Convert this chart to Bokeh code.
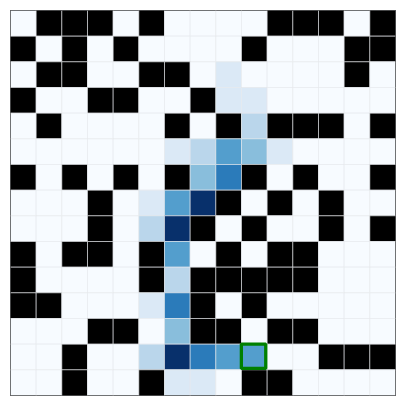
from bokeh.plotting import figure
from bokeh.models import LinearColorMapper, Range1d, ColumnDataSource
from bokeh.palettes import Blues256
from bokeh.embed import file_html
from bokeh.resources import INLINE

W = -1  # wall
grid = [
    [0, W, W, W, 0, W, 0, 0, 0, 0, W, W, W, 0, W],
    [W, 0, W, 0, W, 0, 0, 0, 0, W, 0, 0, 0, W, W],
    [0, W, W, 0, 0, W, W, 0, 1, 0, 0, 0, 0, W, 0],
    [W, 0, 0, W, W, 0, 0, W, 1, 1, 0, 0, 0, 0, 0],
    [0, W, 0, 0, 0, 0, W, 0, W, 2, W, W, W, 0, W],
    [0, 0, 0, 0, 0, 0, 1, 2, 4, 3, 1, 0, 0, 0, 0],
    [W, 0, W, 0, W, 0, W, 3, 5, W, 0, W, 0, 0, W],
    [0, 0, 0, W, 0, 1, 4, 7, W, 0, W, 0, W, 0, 0],
    [0, 0, 0, W, 0, 2, 7, W, 0, W, 0, 0, W, 0, W],
    [W, 0, W, W, 0, W, 4, 0, W, 0, W, W, 0, 0, 0],
    [W, 0, 0, 0, 0, W, 2, W, W, W, W, W, 0, 0, 0],
    [W, W, 0, 0, 0, 1, 5, W, 0, W, 0, 0, 0, 0, 0],
    [0, 0, 0, W, W, 0, 3, W, W, 0, W, W, 0, 0, 0],
    [0, 0, W, 0, 0, 2, 7, 5, 4, 4, 0, 0, W, W, W],
    [0, 0, W, 0, 0, W, 1, 1, 0, W, W, 0, 0, 0, 0],
]
goal_row = 13
goal_col = 9
n_rows = len(grid)
n_cols = len(grid[0])

xs, ys, vals = [], [], []
for r, row in enumerate(grid):
    for c, v in enumerate(row):
        xs.append(c + 0.5)
        ys.append(r + 0.5)
        vals.append(v)

src = ColumnDataSource(dict(x=xs, y=ys, v=vals))
mapper = LinearColorMapper(palette=list(reversed(Blues256)), low=0, high=7,
                           low_color="black")

p = figure(width=405, height=405, output_backend="svg", toolbar_location=None,
           x_range=Range1d(0, n_cols), y_range=Range1d(n_rows, 0),
           x_axis_location=None, y_axis_location=None,
           min_border_left=10, min_border_right=10,
           min_border_top=10, min_border_bottom=10)
p.grid.visible = False
p.outline_line_color = "black"
p.outline_line_width = 1
p.background_fill_color = "white"
p.border_fill_color = "white"

p.rect(x="x", y="y", width=1, height=1, source=src,
       fill_color={"field": "v", "transform": mapper},
       line_color="#e6e9ed", line_width=0.6)

p.rect(x=[goal_col + 0.47], y=[goal_row + 0.47], width=0.95, height=0.95,
       fill_alpha=0, line_color="green", line_width=3.3)

open("out.html", "w").write(file_html(p, INLINE))
